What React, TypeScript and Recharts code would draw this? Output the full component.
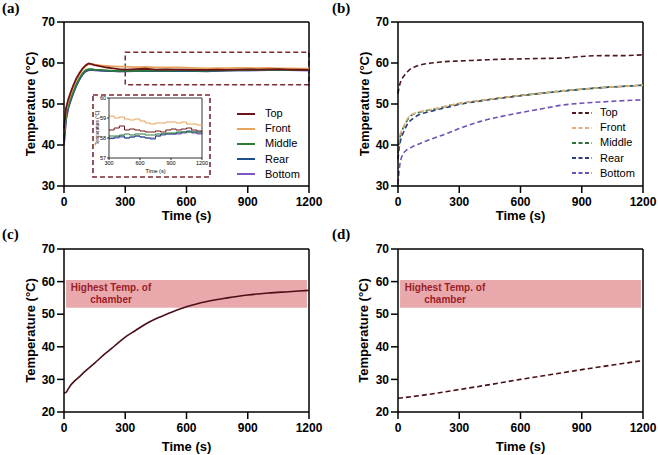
import React from 'react';
import {
  LineChart,
  Line,
  XAxis,
  YAxis,
  ReferenceLine,
  ReferenceArea,
  Legend,
} from 'recharts';

// series names, in legend order
const SERIES = ['Top', 'Front', 'Middle', 'Rear', 'Bottom'];
const TIME_TICKS = [0, 300, 600, 900, 1200];
const INSET_TICKS_X = [300, 600, 900, 1200];
const INSET_TICKS_Y = [57, 58, 59, 60];

// (a) measured chamber temperatures (°C)
const TIME_A = [
  0, 10, 20, 30, 45, 60, 75, 90, 105, 120, 135, 150, 180, 210, 240, 270, 300,
  350, 400, 450, 500, 550, 600, 650, 700, 750, 800, 850, 900, 950, 1000, 1050, 1100, 1150, 1200,
];
const TOP_A = [
  44, 49, 51, 52.5, 54.5, 56.2, 57.5, 58.6, 59.4, 59.9, 59.7, 59.5, 59.2, 58.9, 58.7, 58.5, 58.4,
  58.5, 58.6, 58.4, 58.45, 58.4, 58.35, 58.3, 58.3, 58.35, 58.3, 58.4, 58.45, 58.4, 58.45, 58.5, 58.4, 58.35, 58.3,
];
const FRONT_A = [
  43, 48.5, 50.5, 52, 54, 55.8, 57.2, 58.4, 59.2, 59.7, 59.7, 59.6, 59.4, 59.3, 59.2, 59.1, 59.1,
  59.0, 59.05, 58.95, 58.9, 58.95, 58.85, 58.75, 58.7, 58.75, 58.75, 58.8, 58.8, 58.75, 58.8, 58.7, 58.7, 58.65, 58.6,
];
const MIDDLE_A = [
  42, 47, 49.5, 51, 53, 54.8, 56.2, 57.4, 58.2, 58.5, 58.5, 58.4, 58.3, 58.2, 58.1, 58.1, 58.1,
  58.1, 58.15, 58.2, 58.15, 58.2, 58.2, 58.15, 58.15, 58.2, 58.2, 58.25, 58.25, 58.3, 58.3, 58.3, 58.3, 58.3, 58.3,
];
const REAR_A = [
  41, 46.5, 49, 50.6, 52.7, 54.5, 56, 57.2, 58, 58.3, 58.4, 58.3, 58.2, 58.1, 58.0, 57.95, 57.97,
  58.05, 58.1, 58.0, 58.05, 58.1, 58.05, 58.0, 57.95, 58.1, 58.2, 58.2, 58.2, 58.25, 58.3, 58.35, 58.3, 58.25, 58.2,
];
const BOTTOM_A = [
  40, 46, 48.7, 50.4, 52.5, 54.4, 55.9, 57.1, 57.9, 58.2, 58.3, 58.2, 58.1, 58.0, 58.0, 57.95, 58.0,
  58.0, 58.05, 58.0, 58.05, 58.1, 58.05, 58.0, 58.0, 58.1, 58.15, 58.2, 58.2, 58.2, 58.25, 58.3, 58.25, 58.2, 58.2,
];

// (b) simulated temperatures (°C)
const TIME_B = [0, 5, 10, 20, 30, 45, 60, 80, 100, 150, 200, 250, 300, 400, 500, 600, 700, 800, 900, 1000, 1100, 1200];
const TOP_B = [52.5, 54, 55, 56.2, 56.9, 57.8, 58.5, 59, 59.4, 59.9, 60.2, 60.4, 60.5, 60.7, 60.9, 61.0, 61.1, 61.2, 61.6, 61.8, 61.8, 62.0];
const FRONT_B = [38.5, 41, 42.5, 43.8, 44.8, 46.3, 47.2, 47.7, 48.0, 48.6, 49.0, 49.6, 50.1, 50.8, 51.5, 52.1, 52.6, 53.2, 53.6, 54.0, 54.3, 54.6];
const MIDDLE_B = [38, 40.5, 42, 43.5, 44.6, 46, 47, 47.6, 47.9, 48.5, 49.0, 49.6, 50.1, 50.8, 51.5, 52.1, 52.6, 53.2, 53.6, 54.0, 54.3, 54.6];
const REAR_B = [36.5, 39, 40.5, 42.3, 43.4, 45, 45.9, 46.7, 47.3, 48.1, 48.7, 49.3, 49.9, 50.7, 51.4, 52.0, 52.6, 53.1, 53.6, 54.0, 54.3, 54.6];
const BOTTOM_B = [30.5, 33.5, 35.5, 37.3, 38.2, 38.9, 39.3, 39.8, 40.2, 41.2, 42.1, 43.0, 44.0, 45.7, 46.9, 47.9, 48.8, 49.7, 50.2, 50.5, 50.8, 51.0];

// (c) and (d) single-probe curves
const TIME_C = [0, 10, 20, 30, 50, 75, 100, 150, 200, 250, 300, 350, 400, 450, 500, 550, 600, 700, 800, 900, 1000, 1100, 1200];
const TEMP_C = [25.8, 26.0, 27.0, 28.0, 29.4, 30.8, 32.3, 35.0, 37.8, 40.4, 43.0, 45.0, 47.0, 48.6, 49.9, 51.2, 52.3, 53.9, 55.0, 55.9, 56.5, 56.9, 57.3];
const TIME_D = [0, 150, 300, 450, 600, 750, 900, 1050, 1200];
const TEMP_D = [24.2, 25.4, 26.9, 28.4, 30.0, 31.5, 33.0, 34.4, 35.8];

// highest chamber temperature band
const BAND_Y = [52, 60.5];
const BAND_X = [10, 1190];

const COLORS_A = { Top: '#6e1418', Front: '#e8a35c', Middle: '#2e7d34', Rear: '#1f4e8c', Bottom: '#7e57c2' };
const COLORS_B = { Top: '#4e1a1f', Front: '#dcae7c', Middle: '#2f6f3a', Rear: '#2b3f7a', Bottom: '#6f52b5' };

const FONT = 'Liberation Sans, Arial, Helvetica, sans-serif';
const FRAME = '#000';

const rowsA = TIME_A.map((t, i) => ({
  t,
  Top: TOP_A[i],
  Front: FRONT_A[i],
  Middle: MIDDLE_A[i],
  Rear: REAR_A[i],
  Bottom: BOTTOM_A[i],
}));
const rowsInset = rowsA.filter((r) => r.t >= 300);
const rowsB = TIME_B.map((t, i) => ({
  t,
  Top: TOP_B[i],
  Front: FRONT_B[i],
  Middle: MIDDLE_B[i],
  Rear: REAR_B[i],
  Bottom: BOTTOM_B[i],
}));
const rowsC = TIME_C.map((t, i) => ({ t, temp: TEMP_C[i] }));
const rowsD = TIME_D.map((t, i) => ({ t, temp: TEMP_D[i] }));

const tickFont = { fontSize: 12, fontWeight: 700, fill: '#000', fontFamily: FONT };
const axisLine = { stroke: FRAME, strokeWidth: 1.5 };

const xAxisProps = {
  type: 'number' as const,
  dataKey: 't',
  domain: [0, 1200],
  ticks: TIME_TICKS,
  interval: 0 as const,
  tickSize: 7,
  tickMargin: 4,
  axisLine,
  tickLine: axisLine,
  tick: tickFont,
};

const yAxisBase = {
  type: 'number' as const,
  interval: 0 as const,
  tickSize: 7,
  tickMargin: 2,
  axisLine,
  tickLine: axisLine,
  tick: tickFont,
};

const titleStyle = { fontSize: 13, fontWeight: 700, fill: '#000', fontFamily: FONT };

function xTitle(offset: number) {
  return { value: 'Time (s)', position: 'insideBottom' as const, offset, style: titleStyle };
}

function yTitle(offset: number) {
  return {
    value: 'Temperature (°C)',
    angle: -90,
    position: 'insideLeft' as const,
    offset,
    style: { ...titleStyle, textAnchor: 'middle' as const },
  };
}

function SeriesLegend({ payload, dashed }: { payload?: any[]; dashed: boolean }) {
  const items = SERIES.map((n) => (payload || []).find((p) => p.value === n)).filter(Boolean);
  const w = dashed ? 20 : 18;
  return (
    <div style={{ fontFamily: FONT, fontSize: 11, color: '#000', lineHeight: '11px' }}>
      {items.map((it: any) => (
        <div key={it.value} style={{ height: 15.2, display: 'flex', alignItems: 'center' }}>
          <svg width={w} height={4} style={{ marginRight: dashed ? 8 : 10 }}>
            <line
              x1={0}
              y1={2}
              x2={w}
              y2={2}
              stroke={it.color}
              strokeWidth={2}
              strokeDasharray={dashed ? '4 2.5' : undefined}
            />
          </svg>
          <span>{it.value}</span>
        </div>
      ))}
    </div>
  );
}

const BandLabel = (props: any) => {
  const vb = props.viewBox;
  const cx = vb.x + 45;
  return (
    <text
      x={cx}
      y={vb.y + 11.4}
      textAnchor="middle"
      fill="#9b1c2a"
      fontSize={10}
      fontWeight={700}
      fontFamily={FONT}
    >
      <tspan x={cx}>Highest Temp. of</tspan>
      <tspan x={cx} dy={11.3}>
        chamber
      </tspan>
    </text>
  );
};

const panelTag = (left: number, top: number) => ({
  position: 'absolute' as const,
  left,
  top,
  fontFamily: 'Liberation Serif, Times New Roman, serif',
  fontWeight: 700,
  fontSize: 15,
  lineHeight: '15px',
});

function MainPanelA() {
  const order = ['Bottom', 'Rear', 'Middle', 'Front', 'Top'];
  return (
    <LineChart width={329} height={225} data={rowsA} margin={{ top: 22, right: 20, left: 0, bottom: 0 }}>
      <XAxis {...xAxisProps} height={39} label={xTitle(5.5)} />
      <YAxis {...yAxisBase} width={64} domain={[30, 70]} ticks={[30, 40, 50, 60, 70]} label={yTitle(30)} />
      <ReferenceLine y={70} stroke={FRAME} strokeWidth={1.5} />
      <ReferenceLine x={1200} stroke={FRAME} strokeWidth={1.5} />
      {order.map((k) => (
        <Line
          key={k}
          dataKey={k}
          name={k}
          type="linear"
          stroke={COLORS_A[k as keyof typeof COLORS_A]}
          strokeWidth={1.8}
          dot={false}
          isAnimationActive={false}
        />
      ))}
      <ReferenceArea
        x1={300}
        x2={1200}
        y1={54.7}
        y2={62.6}
        fill="none"
        fillOpacity={0}
        stroke="#7b2a33"
        strokeWidth={1.5}
        strokeDasharray="5 3"
      />
      <Legend
        layout="vertical"
        align="center"
        verticalAlign="middle"
        wrapperStyle={{ left: 237, top: 106, width: 80, height: 80 }}
        content={(p: any) => <SeriesLegend payload={p.payload} dashed={false} />}
      />
    </LineChart>
  );
}

function InsetA() {
  const order = ['Bottom', 'Rear', 'Middle', 'Front', 'Top'];
  const tiny = { fontSize: 5.5, fontWeight: 400, fill: '#000', fontFamily: FONT };
  const thin = { stroke: FRAME, strokeWidth: 0.8 };
  return (
    <div style={{ position: 'absolute', left: 92, top: 94, width: 119, height: 84, background: '#fff' }}>
      <svg width={119} height={84} style={{ position: 'absolute', left: 0, top: 0 }}>
        <rect x={1} y={1} width={117} height={82} fill="none" stroke="#7b2a33" strokeWidth={1.6} strokeDasharray="5 3" />
      </svg>
      <div style={{ position: 'absolute', left: 0, top: 0 }}>
        <LineChart width={119} height={84} data={rowsInset} margin={{ top: 4, right: 9, left: 0, bottom: 0 }}>
          <XAxis
            type="number"
            dataKey="t"
            domain={[300, 1200]}
            ticks={INSET_TICKS_X}
            interval={0}
            tickSize={2}
            tickMargin={1}
            axisLine={thin}
            tickLine={thin}
            tick={tiny}
            height={20}
            label={{ value: 'Time (s)', position: 'insideBottom', offset: 5, style: { ...tiny, fontSize: 5.5 } }}
          />
          <YAxis
            type="number"
            domain={[57, 60]}
            ticks={INSET_TICKS_Y}
            interval={0}
            tickSize={2}
            tickMargin={1}
            axisLine={thin}
            tickLine={thin}
            tick={tiny}
            width={17}
            label={{
              value: 'Temperature (°C)',
              angle: -90,
              position: 'insideLeft',
              offset: 5,
              style: { ...tiny, fontSize: 4.5, textAnchor: 'middle' },
            }}
          />
          <ReferenceLine y={60} stroke={FRAME} strokeWidth={0.8} />
          <ReferenceLine x={1200} stroke={FRAME} strokeWidth={0.8} />
          {order.map((k) => (
            <Line
              key={k}
              dataKey={k}
              type="stepAfter"
              stroke={COLORS_A[k as keyof typeof COLORS_A]}
              strokeWidth={1}
              dot={false}
              isAnimationActive={false}
            />
          ))}
        </LineChart>
      </div>
    </div>
  );
}

function PanelB() {
  const order = ['Bottom', 'Rear', 'Middle', 'Front', 'Top'];
  return (
    <LineChart width={328} height={225} data={rowsB} margin={{ top: 22, right: 15, left: 0, bottom: 0 }}>
      <XAxis {...xAxisProps} height={39} label={xTitle(5.5)} />
      <YAxis {...yAxisBase} width={68} domain={[30, 70]} ticks={[30, 40, 50, 60, 70]} label={yTitle(34)} />
      <ReferenceLine y={70} stroke={FRAME} strokeWidth={1.5} />
      <ReferenceLine x={1200} stroke={FRAME} strokeWidth={1.5} />
      {order.map((k) => (
        <Line
          key={k}
          dataKey={k}
          name={k}
          type="monotone"
          stroke={COLORS_B[k as keyof typeof COLORS_B]}
          strokeWidth={1.6}
          strokeDasharray="5 3"
          dot={false}
          isAnimationActive={false}
        />
      ))}
      <Legend
        layout="vertical"
        align="center"
        verticalAlign="middle"
        wrapperStyle={{ left: 242, top: 105, width: 80, height: 80 }}
        content={(p: any) => <SeriesLegend payload={p.payload} dashed />}
      />
    </LineChart>
  );
}

function BandPanel({ rows, dashed, width, right, yWidth, yOffset }: any) {
  return (
    <LineChart width={width} height={230} data={rows} margin={{ top: 24, right, left: 0, bottom: 0 }}>
      <XAxis {...xAxisProps} height={43} label={xTitle(4)} />
      <YAxis
        {...yAxisBase}
        width={yWidth}
        domain={[20, 70]}
        ticks={[20, 30, 40, 50, 60, 70]}
        label={yTitle(yOffset)}
      />
      <ReferenceArea
        x1={BAND_X[0]}
        x2={BAND_X[1]}
        y1={BAND_Y[0]}
        y2={BAND_Y[1]}
        fill="#e9a9ac"
        fillOpacity={1}
        stroke="none"
        label={BandLabel}
      />
      <ReferenceLine y={70} stroke={FRAME} strokeWidth={1.5} />
      <ReferenceLine x={1200} stroke={FRAME} strokeWidth={1.5} />
      <Line
        dataKey="temp"
        type="monotone"
        stroke="#4a0f17"
        strokeWidth={1.6}
        strokeDasharray={dashed ? '5 3' : undefined}
        dot={false}
        isAnimationActive={false}
      />
    </LineChart>
  );
}

export default function App() {
  return (
    <div style={{ position: 'absolute', left: 0, top: 0, width: 658, height: 455, background: '#fff', overflow: 'hidden' }}>
      <div style={{ position: 'absolute', left: 0, top: 0 }}>
        <MainPanelA />
      </div>
      <InsetA />
      <div style={{ position: 'absolute', left: 330, top: 0 }}>
        <PanelB />
      </div>
      <div style={{ position: 'absolute', left: 0, top: 225 }}>
        <BandPanel rows={rowsC} dashed={false} width={329} right={20} yWidth={64} yOffset={30} />
      </div>
      <div style={{ position: 'absolute', left: 330, top: 225 }}>
        <BandPanel rows={rowsD} dashed width={328} right={15} yWidth={68} yOffset={33.5} />
      </div>
      <div style={panelTag(2, 1)}>(a)</div>
      <div style={panelTag(332, 1)}>(b)</div>
      <div style={panelTag(2, 227)}>(c)</div>
      <div style={panelTag(332, 227)}>(d)</div>
    </div>
  );
}
